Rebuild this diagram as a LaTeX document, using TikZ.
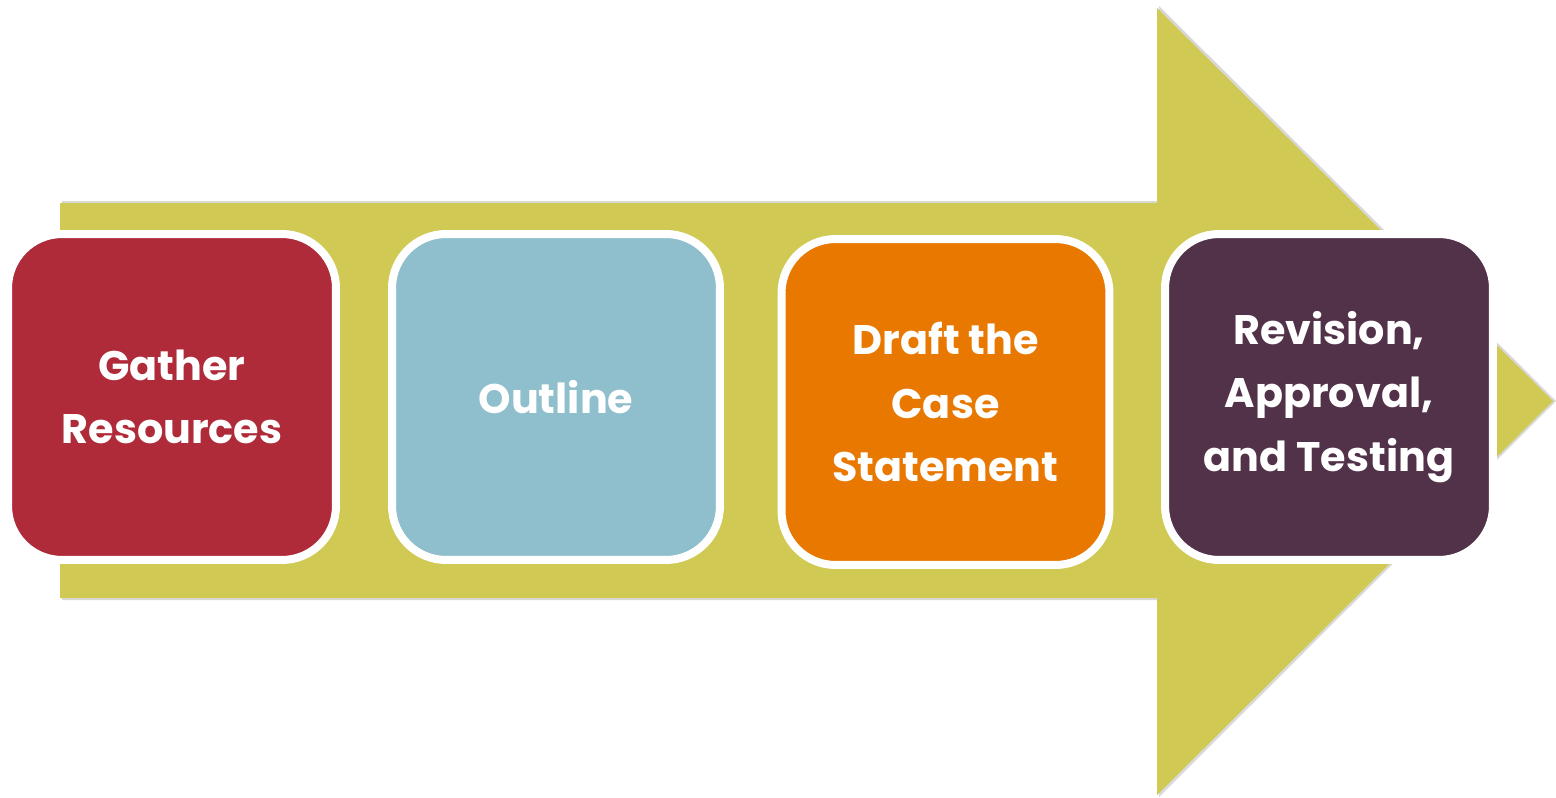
\documentclass[tikz,border=0pt]{standalone}
\usepackage{fontspec}
\setmainfont{Poppins}
\usetikzlibrary{positioning}
\definecolor{arrowolive}{RGB}{208,202,84}
\definecolor{gatherred}{RGB}{176,43,58}
\definecolor{outlineblue}{RGB}{143,191,204}
\definecolor{draftorange}{RGB}{232,120,0}
\definecolor{revisionplum}{RGB}{82,50,72}

\begin{document}
\begin{tikzpicture}[x=0.02cm, y=-0.02cm,
    stepbox/.style={rectangle, draw=white, line width=0.16cm, rounded corners=1.08cm,
        minimum width=6.56cm, minimum height=6.52cm, inner sep=0pt, align=center,
        text=white, font=\fontsize{23.5}{36}\selectfont\bfseries}]
\useasboundingbox (0,0) rectangle (1556,798);

% Big process arrow behind the steps
\fill[gray!60, opacity=0.5] (62,201) -- (1159,201) -- (1159,6) -- (1556,401) -- (1159,797) -- (1159,600) -- (62,600) -- cycle;
\fill[arrowolive] (60,203) -- (1157,203) -- (1157,8) -- (1553,401) -- (1157,795) -- (1157,598) -- (60,598) -- cycle;

% Steps
\node[stepbox, fill=gatherred] (gather) at (172,397) {Gather\\Resources};
\node[stepbox, fill=outlineblue] (outline) at (556,397) {Outline};
\node[stepbox, fill=draftorange] (draft) at (945.5,402) {Draft the\\Case\\Statement};
\node[stepbox, fill=revisionplum] (revision) at (1329,397) {Revision,\\Approval,\\and Testing};
\end{tikzpicture}
\end{document}
